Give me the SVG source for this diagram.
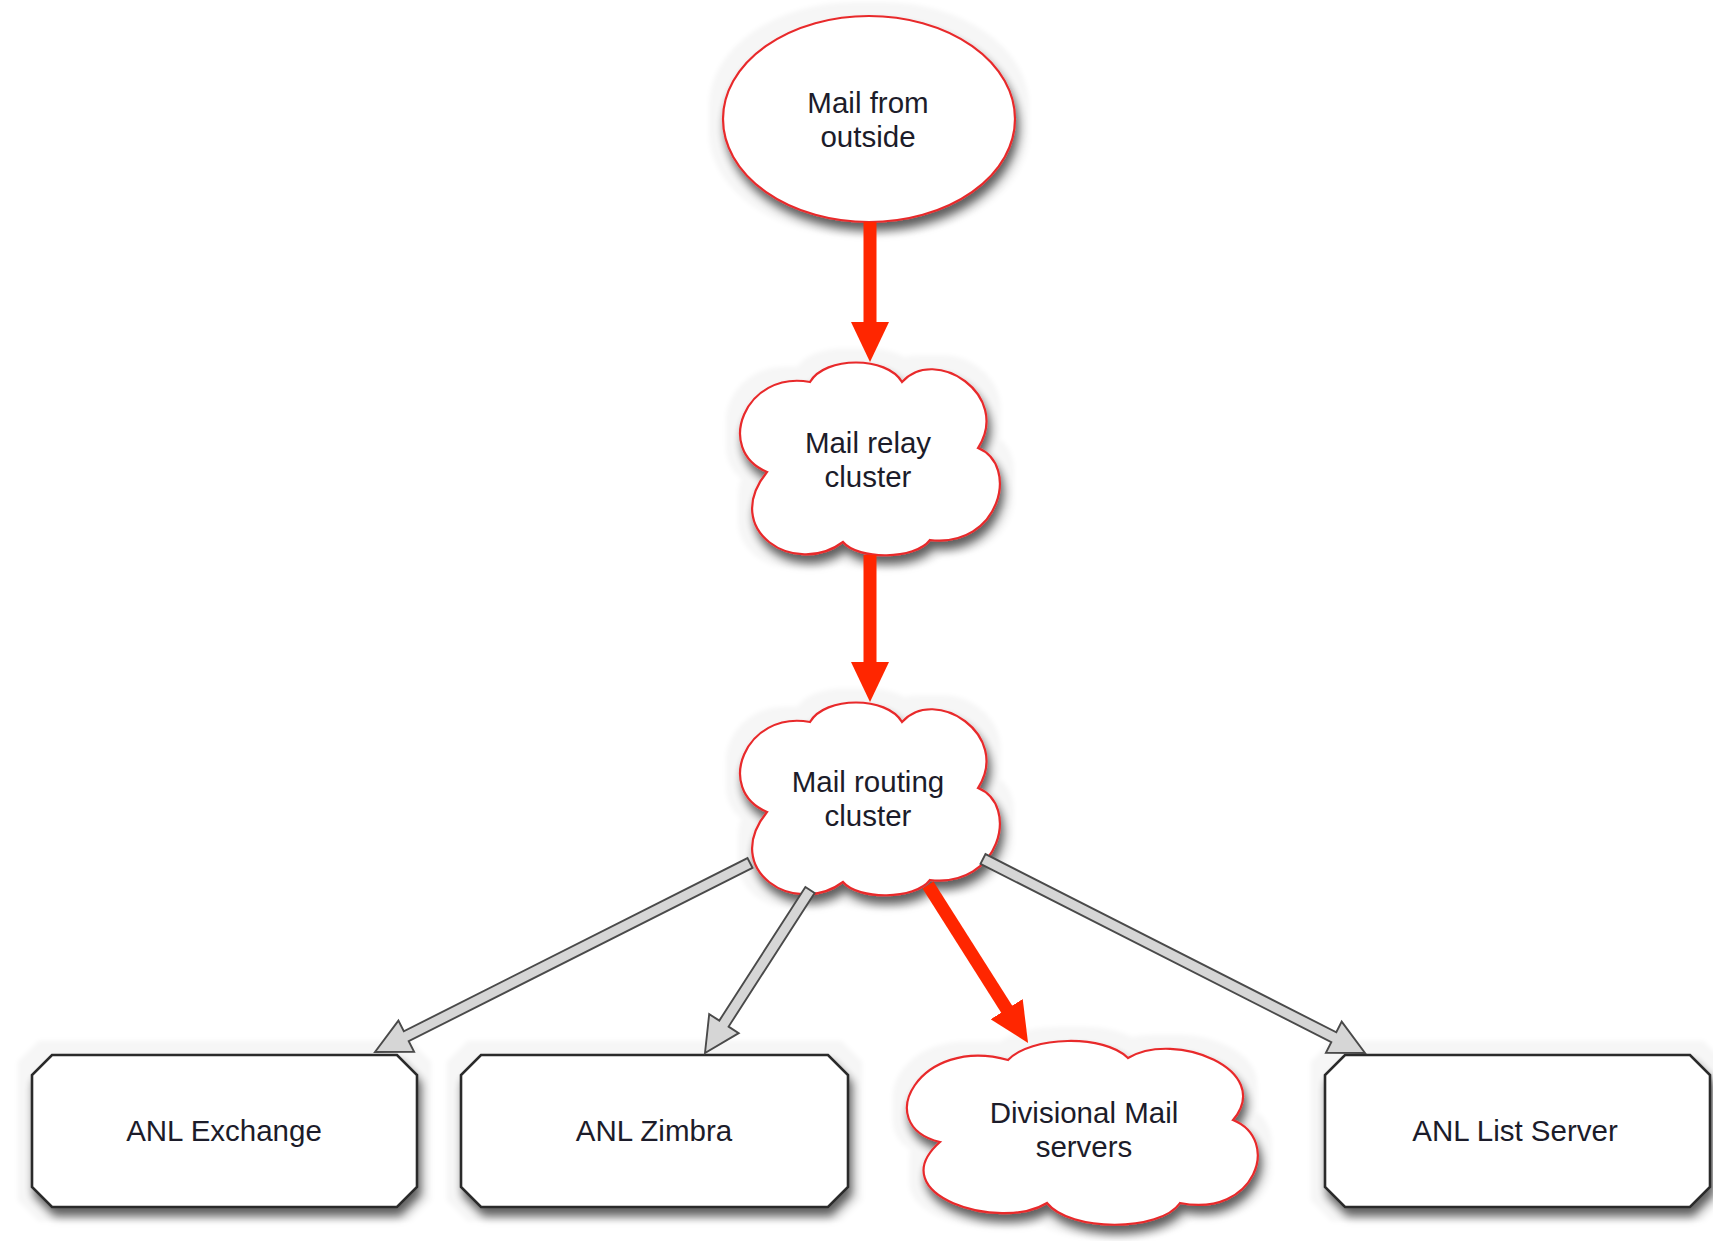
<svg xmlns="http://www.w3.org/2000/svg" width="1713" height="1241" viewBox="0 0 1713 1241">
  <defs>
    <style>
      .bg { fill: #ffffff; }
      .soft { fill: #ffffff; stroke: #e8292c; stroke-width: 2.2; filter: url(#shadow); }
      .box { fill: #ffffff; stroke: #2b2b2b; stroke-width: 2.6; filter: url(#shadow); }
      .lbl { font-family: "Liberation Sans", Arial, Helvetica, sans-serif; font-size: 29.5px; fill: #1c1c2a; text-anchor: middle; }
      .red { stroke: #ff2600; stroke-width: 13; fill: none; marker-end: url(#redHead); }
      .gray { fill: #d6d6d6; stroke: #4a4a4a; stroke-width: 1.9; stroke-linejoin: miter; }
    </style>
    <filter id="shadow" x="-20%" y="-20%" width="140%" height="150%">
      <feMorphology in="SourceAlpha" operator="dilate" radius="13" result="halo0"/>
      <feGaussianBlur in="halo0" stdDeviation="2" result="halo1"/>
      <feFlood flood-color="#000" flood-opacity="0.035" result="hc"/>
      <feComposite in="hc" in2="halo1" operator="in" result="halo"/>
      <feGaussianBlur in="SourceAlpha" stdDeviation="5" result="b"/>
      <feOffset in="b" dx="3" dy="8" result="o"/>
      <feFlood flood-color="#000" flood-opacity="0.62" result="sc"/>
      <feComposite in="sc" in2="o" operator="in" result="sh"/>
      <feMerge>
        <feMergeNode in="halo"/>
        <feMergeNode in="sh"/>
        <feMergeNode in="SourceGraphic"/>
      </feMerge>
    </filter>
    <marker id="redHead" markerUnits="userSpaceOnUse" markerWidth="40" markerHeight="38" refX="10" refY="19" orient="auto">
      <path d="M0,0 L40,19 L0,38 Z" fill="#ff2600"/>
    </marker>
    <path id="cloudA" d="M810,382 C825,356 887,356 902,382 C935,345 1012,395 978,448 C1020,465 1000,548 930,540 C915,560 858,560 843,542 C795,578 720,530 767,472 C714,450 745,370 810,382 Z"/>
  </defs>

  <rect class="bg" x="0" y="0" width="1713" height="1241"/>

  <g id="node-mail-from-outside">
    <ellipse class="soft" cx="869" cy="119" rx="146" ry="103"/>
    <text class="lbl" x="868" y="113">Mail from</text>
    <text class="lbl" x="868" y="147">outside</text>
  </g>

  <g id="node-mail-relay-cluster">
    <use href="#cloudA" class="soft"/>
    <text class="lbl" x="868" y="453">Mail relay</text>
    <text class="lbl" x="868" y="487">cluster</text>
  </g>

  <g id="node-mail-routing-cluster">
    <use href="#cloudA" class="soft" transform="translate(0,340)"/>
    <text class="lbl" x="868" y="792">Mail routing</text>
    <text class="lbl" x="868" y="826">cluster</text>
  </g>

  <g id="node-anl-exchange">
    <path class="box" d="M52,1055 L397,1055 L417,1075 L417,1187 L397,1207 L52,1207 L32,1187 L32,1075 Z"/>
    <text class="lbl" x="224" y="1141">ANL Exchange</text>
  </g>

  <g id="node-anl-zimbra">
    <path class="box" d="M481,1055 L828,1055 L848,1075 L848,1187 L828,1207 L481,1207 L461,1187 L461,1075 Z"/>
    <text class="lbl" x="654" y="1141">ANL Zimbra</text>
  </g>

  <g id="node-divisional-mail-servers">
    <path class="soft" d="M1008,1060 C1030,1036 1105,1034 1128,1058 C1175,1030 1275,1070 1233,1120 C1282,1140 1255,1218 1180,1203 C1160,1232 1070,1232 1047,1203 C1000,1232 880,1195 940,1142 C870,1125 920,1035 1008,1060 Z"/>
    <text class="lbl" x="1084" y="1123">Divisional Mail</text>
    <text class="lbl" x="1084" y="1157">servers</text>
  </g>

  <g id="node-anl-list-server">
    <path class="box" d="M1345,1055 L1690,1055 L1710,1075 L1710,1187 L1690,1207 L1345,1207 L1325,1187 L1325,1075 Z"/>
    <text class="lbl" x="1515" y="1141">ANL List Server</text>
  </g>

  <g id="connectors">
    <line class="red" x1="870" y1="222" x2="870" y2="332"/>
    <line class="red" x1="870" y1="555" x2="870" y2="672"/>
    <line class="red" x1="928" y1="885" x2="1012" y2="1017.6"/>
    <polygon class="gray" points="752.5,867.9 408.7,1041.2 414.1,1051.9 375,1052 398.4,1020.6 403.8,1031.3 747.5,858.1"/>
    <polygon class="gray" points="814.6,893.0 728.6,1026.6 738.7,1033.1 705,1053 709.2,1014.1 719.3,1020.6 805.4,887.0"/>
    <polygon class="gray" points="980.5,863.9 1331.3,1042.1 1325.9,1052.8 1365,1053 1341.7,1021.6 1336.3,1032.3 985.5,854.1"/>
  </g>
</svg>
